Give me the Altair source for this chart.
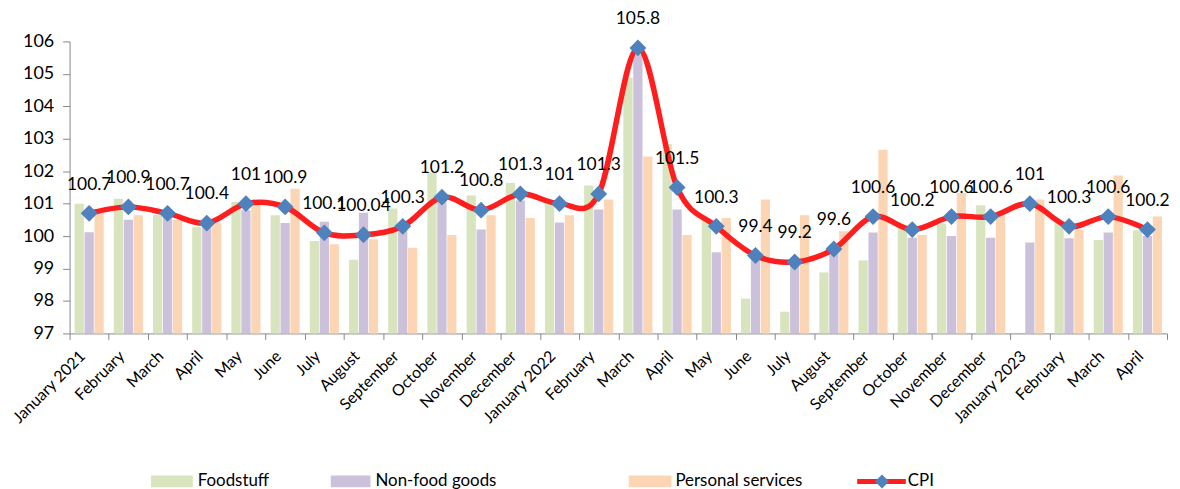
import altair as alt
import pandas as pd

months = ["January 2021", "February", "March", "April", "May", "June", "July",
          "August", "September", "October", "November", "December",
          "January 2022", "February", "March", "April", "May", "June", "July",
          "August", "September", "October", "November", "December",
          "January 2023", "February", "March", "April"]

foodstuff = [101.0, 101.15, 100.65, 100.28, 101.05, 100.64, 99.85, 99.27, 100.85,
             101.97, 101.25, 101.64, 101.0, 101.56, 104.88, 102.84, 100.5, 98.07,
             97.67, 98.88, 99.25, 100.3, 100.39, 100.95, 97.0, 100.4, 99.88, 100.18]
nonfood = [100.12, 100.5, 100.6, 100.4, 100.8, 100.4, 100.44, 100.72, 100.2,
           101.1, 100.2, 101.1, 100.42, 100.82, 105.6, 100.82, 99.5, 99.3,
           99.1, 99.5, 100.11, 99.95, 100.0, 99.95, 99.8, 99.93, 100.11, 100.0]
personal = [100.7, 100.64, 100.5, 100.4, 101.05, 101.46, 99.75, 99.9, 99.64,
            100.03, 100.64, 100.56, 100.64, 101.13, 102.45, 100.03, 100.56, 101.13,
            100.64, 100.15, 102.66, 100.03, 101.33, 100.64, 101.13, 100.2, 101.87, 100.6]
cpi = [100.7, 100.9, 100.7, 100.4, 101, 100.9, 100.1, 100.04, 100.3, 101.2, 100.8,
       101.3, 101, 101.3, 105.8, 101.5, 100.3, 99.4, 99.2, 99.6, 100.6, 100.2,
       100.6, 100.6, 101, 100.3, 100.6, 100.2]

series_names = ["Foodstuff", "Non-food goods", "Personal services"]
series_colors = ["#D7E4BD", "#CCC1DA", "#FCD5B5"]
y_ticks = [97, 98, 99, 100, 101, 102, 103, 104, 105, 106]
FONT = "Lato"

rows = []
for i in range(len(months)):
    for name, vals in zip(series_names, [foodstuff, nonfood, personal]):
        rows.append({"idx": i, "series": name, "value": vals[i]})
bars_df = pd.DataFrame(rows)
cpi_df = pd.DataFrame({"idx": list(range(len(months))), "cpi": cpi,
                       "label": [f"{v:g}" for v in cpi]})

label_expr = "[" + ",".join("'" + m + "'" for m in months) + "][datum.value]"

x_scale = alt.Scale(paddingInner=0, paddingOuter=0)
x_axis = alt.Axis(title=None, labelExpr=label_expr, labelAngle=-45,
                  labelAlign="right", labelBaseline="middle",
                  labelPadding=14, labelOffset=-7, tickBand="extent",
                  tickSize=6, labelOverlap=False,
                  labelFontSize=16, labelFont=FONT, labelColor="#000000",
                  domainColor="#868686", tickColor="#868686", grid=False)
y_scale = alt.Scale(domain=[97, 106], zero=False, nice=False)
y_axis = alt.Axis(title=None, values=y_ticks, tickSize=7, labelPadding=9,
                  labelOverlap=False, labelFontSize=18, labelFont=FONT,
                  labelColor="#000000", domainColor="#868686", tickColor="#868686",
                  grid=False)

bars = alt.Chart(bars_df).mark_bar().encode(
    x=alt.X("idx:O", scale=x_scale, axis=x_axis),
    xOffset=alt.XOffset("series:N", sort=series_names,
                        scale=alt.Scale(paddingInner=0.07, paddingOuter=0.51)),
    y=alt.Y("value:Q", scale=y_scale, axis=y_axis),
    y2=alt.datum(97),
    color=alt.Color("series:N", sort=series_names,
                    scale=alt.Scale(domain=series_names, range=series_colors),
                    legend=None),
)

enc_x = alt.X("idx:O", scale=x_scale, axis=x_axis)
enc_y = alt.Y("cpi:Q", scale=y_scale, axis=y_axis)

line = alt.Chart(cpi_df).mark_line(color="#FF1E1E", strokeWidth=5.5,
                                   interpolate="cardinal").encode(x=enc_x, y=enc_y)
points = alt.Chart(cpi_df).mark_point(shape="diamond", filled=True, size=290,
                                      color="#4F81BD", opacity=1).encode(x=enc_x, y=enc_y)
labels = alt.Chart(cpi_df).mark_text(dy=-29, fontSize=17.5, font=FONT,
                                     color="#000000").encode(x=enc_x, y=enc_y,
                                                             text="label:N")

# manual legend (pixel offsets relative to plot area)
one = pd.DataFrame({"a": [0]})
leg_y = 443
swatch_x = [(82, 124), (263, 303), (563, 606)]
text_x = [129, 308, 610]
legend_layers = []
for (x0, x1), tx, name, col in zip(swatch_x, text_x, series_names, series_colors):
    legend_layers.append(alt.Chart(one).mark_rect(color=col).encode(
        x=alt.value(x0), x2=alt.value(x1),
        y=alt.value(leg_y - 6), y2=alt.value(leg_y + 6)))
    legend_layers.append(alt.Chart(one).mark_text(
        align="left", baseline="middle", fontSize=17, font=FONT, color="#000000").encode(
        x=alt.value(tx), y=alt.value(leg_y), text=alt.value(name)))
legend_layers.append(alt.Chart(one).mark_rule(color="#FF1E1E", strokeWidth=5).encode(
    x=alt.value(793), x2=alt.value(842), y=alt.value(leg_y)))
legend_layers.append(alt.Chart(one).mark_point(
    shape="diamond", filled=True, size=200, color="#4F81BD", opacity=1).encode(
    x=alt.value(818), y=alt.value(leg_y)))
legend_layers.append(alt.Chart(one).mark_text(
    align="left", baseline="middle", fontSize=17, font=FONT, color="#000000").encode(
    x=alt.value(844), y=alt.value(leg_y), text=alt.value("CPI")))

chart = alt.layer(bars, line, points, labels, *legend_layers).properties(
    width=1105, height=294,
    autosize=alt.AutoSizeParams(type="none"),
    padding={"left": 62, "top": 32, "right": 5, "bottom": 155},
).configure(background="#FFFFFF", view=alt.ViewConfig(stroke=None)
).configure_axisY(labelOverlap=False)

chart.save("out.html", embed_options={"renderer": "svg", "actions": False})
